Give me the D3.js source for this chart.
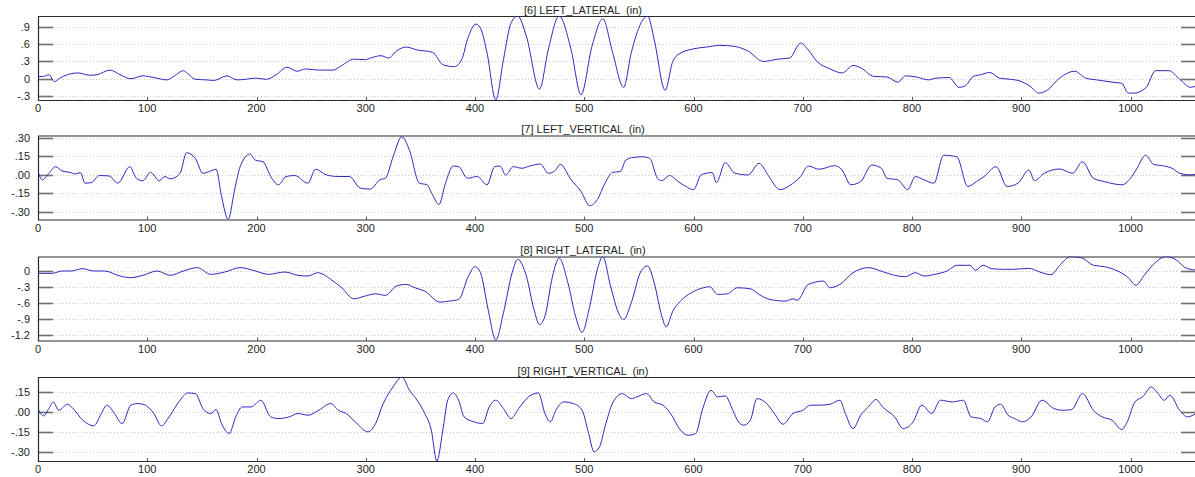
<!DOCTYPE html>
<html>
<head>
<meta charset="utf-8">
<script src="https://cdn.jsdelivr.net/npm/d3@7"></script>
<style>
  html, body { margin: 0; padding: 0; background: #fff; }
  svg { display: block; }
  text { font-family: "Liberation Sans", Arial, sans-serif; fill: #1e1e1e; }
</style>
</head>
<body>
<svg id="chart" width="1195" height="477"></svg>
<script>
// Channel titles
const titles = [
  "[6] LEFT_LATERAL  (in)",
  "[7] LEFT_VERTICAL  (in)",
  "[8] RIGHT_LATERAL  (in)",
  "[9] RIGHT_VERTICAL  (in)"
];

// Sample index / displacement pairs for each channel
const leftLateral = [
  [0,0.04],[5,0.04],[10,0.07],[15,-0.05],[20,0.01],[27,0.07],[37,0.10],[47,0.06],[54,0.07],[66,0.15],
  [75,0.07],[85,0.00],[96,0.05],[106,0.02],[118,-0.02],[125,0.05],[133,0.14],[137,0.09],[144,-0.01],[154,-0.02],
  [161,-0.03],[173,0.05],[182,-0.02],[190,-0.01],[199,0.01],[209,-0.01],[218,0.07],[228,0.20],[237,0.13],[245,0.17],
  [257,0.15],[270,0.15],[278,0.23],[289,0.34],[299,0.33],[306,0.37],[314,0.40],[321,0.36],[328,0.48],[337,0.55],
  [347,0.50],[361,0.46],[371,0.24],[381,0.21],[388,0.34],[393,0.68],[401,0.95],[405,0.88],[411,0.45],[419,-0.37],
  [426,0.33],[433,0.97],[439,1.09],[447,0.74],[459,-0.18],[467,0.50],[477,1.09],[488,0.50],[497,-0.28],[507,0.56],
  [517,1.04],[526,0.45],[536,-0.15],[543,0.45],[552,0.97],[558,1.09],[564,0.68],[574,-0.20],[581,0.30],[586,0.42],
  [600,0.52],[612,0.55],[624,0.58],[638,0.56],[650,0.48],[664,0.30],[677,0.34],[688,0.36],[698,0.62],[705,0.50],
  [713,0.30],[725,0.17],[736,0.10],[746,0.23],[753,0.19],[765,0.04],[777,0.03],[787,-0.06],[794,0.05],[804,0.03],
  [815,-0.02],[822,0.01],[834,0.02],[843,-0.15],[849,-0.12],[856,0.04],[863,0.07],[871,0.11],[880,0.01],[890,-0.01],
  [897,-0.03],[908,-0.13],[916,-0.25],[923,-0.21],[935,0.01],[949,0.13],[959,0.01],[969,-0.02],[983,-0.06],[992,-0.08],
  [998,-0.25],[1003,-0.25],[1014,-0.16],[1023,0.14],[1035,0.14],[1045,-0.01],[1055,-0.15],[1059,-0.13]
];

const leftVertical = [
  [0,0.027],[4,-0.04],[10,0.013],[16,0.067],[22,0.032],[29,0.021],[34,0.008],[39,0.019],[43,-0.067],[49,-0.062],
  [56,-0.005],[65,-0.008],[73,-0.067],[84,0.067],[90,-0.027],[96,-0.048],[103,0.021],[111,-0.048],[116,-0.013],[121,-0.032],
  [130,0.013],[136,0.18],[144,0.134],[151,0.013],[158,0.032],[163,0.046],[168,-0.174],[174,-0.36],[180,-0.12],[185,0.067],
  [194,0.169],[199,0.12],[206,0.107],[213,-0.013],[220,-0.08],[227,-0.013],[235,-0.005],[247,-0.067],[254,0.046],[264,0.0],
  [275,-0.013],[285,-0.013],[295,-0.107],[304,-0.115],[313,-0.04],[318,-0.027],[325,0.147],[333,0.31],[340,0.20],[349,-0.067],
  [356,-0.08],[361,-0.16],[367,-0.24],[373,-0.067],[380,0.072],[385,0.067],[393,-0.027],[402,-0.013],[411,-0.08],[418,0.067],
  [423,0.072],[428,0.0],[435,0.067],[443,0.054],[450,0.072],[460,0.088],[467,0.013],[473,0.032],[478,0.086],[488,-0.04],
  [497,-0.134],[505,-0.25],[512,-0.2],[519,-0.067],[526,0.021],[533,0.027],[538,0.12],[545,0.142],[554,0.147],[560,0.134],
  [567,-0.027],[571,-0.046],[578,-0.005],[586,-0.054],[593,-0.094],[600,-0.12],[607,0.0],[617,0.019],[621,-0.062],[629,0.099],
  [638,0.013],[650,0.0],[660,0.094],[669,-0.013],[679,-0.12],[688,-0.086],[698,-0.013],[705,0.072],[715,0.046],[729,0.075],
  [736,0.04],[744,-0.08],[753,-0.054],[763,0.08],[772,0.054],[777,-0.027],[787,-0.04],[796,-0.12],[803,-0.013],[811,-0.04],
  [820,-0.067],[829,0.16],[841,0.147],[851,-0.094],[859,-0.054],[866,-0.013],[877,0.067],[887,-0.094],[897,-0.067],[907,0.04],
  [912,-0.046],[921,0.013],[935,0.048],[947,0.013],[956,0.107],[966,-0.027],[976,-0.054],[992,-0.08],[1000,-0.027],[1005,0.04],
  [1014,0.16],[1021,0.086],[1031,0.072],[1038,0.054],[1045,0.013],[1055,0.0],[1059,0.005]
];

const rightLateral = [
  [0,-0.044],[13,-0.044],[22,0.0],[30,0.0],[41,0.044],[51,0.0],[61,0.0],[75,-0.095],[85,-0.126],[96,-0.082],
  [109,0.0],[121,-0.082],[133,0.0],[146,0.063],[158,-0.063],[171,-0.019],[185,0.063],[199,0.0],[211,-0.063],[226,-0.019],
  [238,-0.082],[247,-0.095],[256,-0.032],[268,-0.158],[278,-0.316],[289,-0.524],[299,-0.474],[309,-0.43],[318,-0.46],[328,-0.284],
  [337,-0.253],[345,-0.316],[354,-0.379],[368,-0.587],[376,-0.568],[385,-0.537],[394,-0.095],[400,0.082],[405,-0.032],[412,-0.726],
  [419,-1.30],[426,-0.79],[434,-0.032],[439,0.22],[447,-0.095],[454,-0.726],[459,-1.01],[464,-0.853],[471,-0.095],[477,0.24],
  [485,-0.221],[492,-0.853],[498,-1.156],[505,-0.663],[512,0.032],[517,0.272],[524,-0.284],[532,-0.82],[536,-0.916],[543,-0.6],
  [552,0.0],[558,0.095],[564,-0.221],[571,-0.853],[575,-1.055],[581,-0.758],[588,-0.568],[598,-0.41],[609,-0.316],[615,-0.297],
  [622,-0.442],[631,-0.43],[640,-0.316],[652,-0.335],[660,-0.442],[670,-0.537],[684,-0.568],[691,-0.524],[695,-0.55],[705,-0.253],
  [719,-0.19],[725,-0.316],[734,-0.253],[746,-0.032],[760,0.063],[774,-0.019],[784,-0.082],[794,-0.107],[803,-0.032],[811,-0.095],
  [821,-0.063],[832,0.0],[841,0.107],[853,0.107],[858,0.013],[865,0.107],[873,0.044],[883,0.032],[893,0.032],[907,0.05],
  [917,-0.019],[927,-0.07],[936,0.126],[945,0.27],[955,0.25],[966,0.107],[976,0.082],[990,-0.019],[998,-0.126],[1005,-0.27],
  [1012,-0.095],[1021,0.126],[1033,0.273],[1043,0.19],[1050,0.063],[1059,0.019]
];

const rightVertical = [
  [0,0.025],[5,-0.03],[10,0.025],[14,0.074],[19,0.012],[27,0.057],[32,0.025],[41,-0.062],[51,-0.104],[58,-0.012],
  [63,0.05],[70,-0.012],[77,-0.087],[85,0.05],[91,0.062],[97,0.055],[106,-0.012],[113,-0.104],[120,-0.037],[130,0.087],
  [137,0.141],[144,0.136],[151,0.025],[158,-0.012],[163,0.017],[168,-0.087],[175,-0.161],[181,-0.037],[187,0.037],[195,0.037],
  [204,0.087],[213,-0.037],[220,-0.05],[230,-0.037],[238,-0.012],[247,-0.025],[257,0.012],[268,0.062],[275,0.012],[282,-0.012],
  [292,-0.087],[302,-0.149],[309,-0.087],[316,0.062],[325,0.186],[333,0.26],[340,0.161],[347,0.087],[354,-0.012],[360,-0.136],
  [365,-0.366],[371,-0.112],[375,0.087],[380,0.141],[385,0.087],[390,-0.037],[399,-0.074],[407,-0.087],[413,0.037],[419,0.087],
  [426,0.025],[433,-0.05],[440,0.025],[449,0.112],[458,0.141],[464,-0.012],[469,-0.074],[474,0.012],[481,0.074],[490,0.062],
  [498,0.012],[504,-0.161],[509,-0.298],[514,-0.26],[519,-0.11],[526,0.067],[535,0.136],[543,0.099],[548,0.112],[557,0.136],
  [564,0.074],[572,0.05],[579,-0.012],[588,-0.136],[595,-0.174],[602,-0.161],[608,0.012],[616,0.161],[622,0.112],[629,0.119],
  [636,0.012],[641,-0.074],[646,-0.099],[652,-0.062],[658,0.099],[667,0.062],[674,-0.012],[682,-0.092],[691,-0.012],[700,0.012],
  [707,0.05],[715,0.05],[725,0.057],[734,0.087],[739,-0.012],[746,-0.124],[753,-0.025],[760,0.037],[767,0.092],[773,0.037],
  [784,-0.037],[792,-0.124],[801,-0.074],[809,0.05],[818,-0.012],[826,0.087],[837,0.074],[847,0.087],[854,-0.037],[863,-0.05],
  [869,-0.074],[876,0.037],[881,0.057],[888,-0.025],[894,-0.05],[901,-0.074],[909,-0.037],[919,0.087],[930,0.025],[938,0.012],
  [946,0.017],[956,0.136],[966,0.012],[974,-0.037],[983,-0.062],[992,-0.131],[997,-0.074],[1004,0.074],[1011,0.112],[1019,0.186],
  [1024,0.149],[1031,0.087],[1036,0.124],[1045,0.012],[1052,-0.037],[1059,-0.017]
];

// Value ranges of the four vertical axes
const yDomains = [[-0.37, 1.09], [-0.362, 0.32], [-1.31, 0.273], [-0.366, 0.26]];

// Tick values and their printed labels
const yTicks = [
  [-0.3, 0, 0.3, 0.6, 0.9],
  [-0.30, -0.15, 0, 0.15, 0.30],
  [-1.2, -0.9, -0.6, -0.3, 0],
  [-0.30, -0.15, 0, 0.15]
];
const yTickLabels = [
  ["-.3", "0", ".3", ".6", ".9"],
  ["-.30", "-.15", ".00", ".15", ".30"],
  ["-1.2", "-.9", "-.6", "-.3", "0"],
  ["-.30", "-.15", ".00", ".15"]
];
const xTicks = [0, 100, 200, 300, 400, 500, 600, 700, 800, 900, 1000];
const xMax = 1059;

const series = [leftLateral, leftVertical, rightLateral, rightVertical];

// ---- layout ----
const svg = d3.select("#chart");
const left = 38, right = 1195;
const panelTops = [16, 135.5, 256.5, 377];
const panelHeight = 84;

const x = d3.scaleLinear().domain([0, xMax]).range([left, right]);

series.forEach((data, i) => {
  const top = panelTops[i];
  const bottom = top + panelHeight;
  const y = d3.scaleLinear().domain(yDomains[i]).range([bottom, top]);
  const g = svg.append("g");

  // clip region for the trace
  const clipId = "clip" + i;
  svg.append("clipPath").attr("id", clipId)
    .append("rect").attr("x", left).attr("y", top).attr("width", right - left).attr("height", panelHeight);

  // dotted horizontal grid
  g.selectAll("line.grid").data(yTicks[i]).join("line")
    .attr("class", "grid")
    .attr("x1", left + 16).attr("x2", right - 16)
    .attr("y1", d => Math.round(y(d)) + 0.5).attr("y2", d => Math.round(y(d)) + 0.5)
    .attr("stroke", "#c9c9c9").attr("stroke-width", 1).attr("stroke-dasharray", "1,2");

  // inward ticks on both sides
  g.selectAll("line.lt").data(yTicks[i]).join("line")
    .attr("x1", left).attr("x2", left + 15)
    .attr("y1", d => Math.round(y(d)) + 0.5).attr("y2", d => Math.round(y(d)) + 0.5)
    .attr("stroke", "#707070").attr("stroke-width", 1.6);
  g.selectAll("line.rt").data(yTicks[i]).join("line")
    .attr("x1", right - 14).attr("x2", right)
    .attr("y1", d => Math.round(y(d)) + 0.5).attr("y2", d => Math.round(y(d)) + 0.5)
    .attr("stroke", "#707070").attr("stroke-width", 1.6);

  // y tick labels
  g.selectAll("text.yl").data(yTicks[i]).join("text")
    .attr("x", 30).attr("y", d => y(d) + 4)
    .attr("text-anchor", "end").attr("font-size", 11)
    .text((d, k) => yTickLabels[i][k]);

  // small x ticks at the bottom
  g.selectAll("line.xt").data(xTicks).join("line")
    .attr("x1", d => Math.round(x(d)) + 0.5).attr("x2", d => Math.round(x(d)) + 0.5)
    .attr("y1", bottom - 3).attr("y2", bottom)
    .attr("stroke", "#555").attr("stroke-width", 1);

  // x tick labels
  g.selectAll("text.xl").data(xTicks).join("text")
    .attr("x", d => x(d)).attr("y", bottom + 12)
    .attr("text-anchor", "middle").attr("font-size", 11)
    .text(d => d);

  // frame: top, left, bottom
  g.append("path")
    .attr("d", `M${right},${top + 0.5}H${left + 0.5}V${bottom + 0.5}H${right}`)
    .attr("fill", "none").attr("stroke", "#2a2a2a").attr("stroke-width", 1.2);

  // trace
  const line = d3.line()
    .x(d => x(d[0])).y(d => y(d[1]))
    .curve(d3.curveMonotoneX);
  g.append("path")
    .datum(data)
    .attr("clip-path", `url(#${clipId})`)
    .attr("d", line)
    .attr("fill", "none").attr("stroke", "#2a2ac2").attr("stroke-width", 1);

  // channel title
  g.append("text")
    .attr("x", 583).attr("y", top - 2.5)
    .attr("text-anchor", "middle").attr("font-size", 11)
    .style("white-space", "pre")
    .text(titles[i]);
});
</script>
</body>
</html>
